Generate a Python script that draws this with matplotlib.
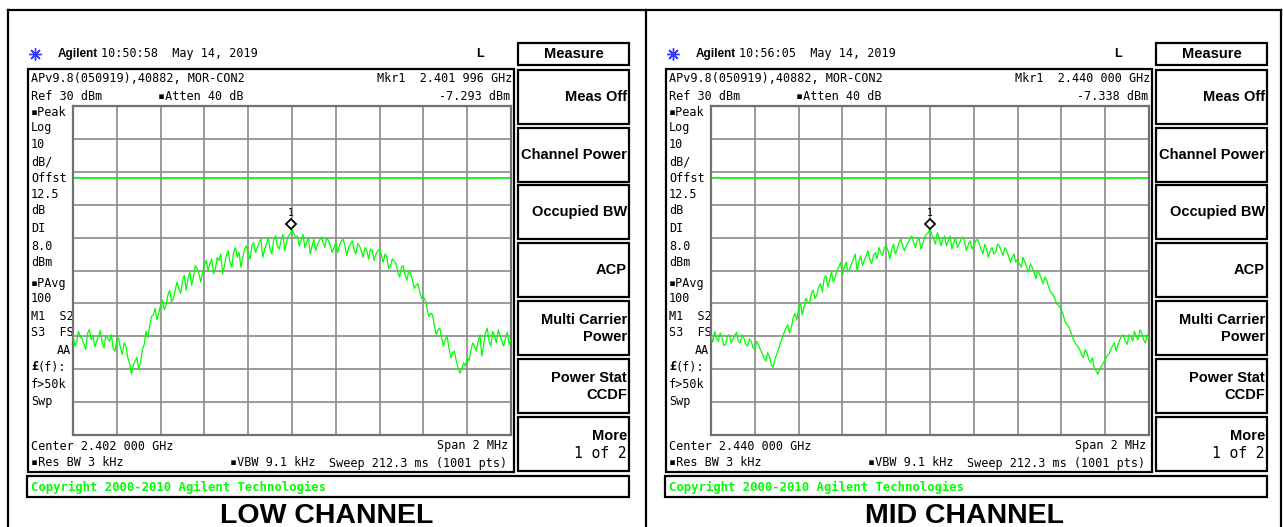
import numpy as np
import matplotlib
matplotlib.use('Agg')
import matplotlib.pyplot as plt
from matplotlib.patches import Rectangle
from matplotlib.transforms import offset_copy

# ---------------- data ----------------
SPAN_GHZ = 0.002
REF_DBM = 30.0
DB_PER_DIV = 10.0
DISPLAY_LINE_DBM = 8.0

low_center = 2.402
mid_center = 2.440
low_marker_freq, low_marker_level = 2.401996, -7.293
mid_marker_freq, mid_marker_level = 2.440000, -7.338

low_trace = [
    -39.5, -43.0, -41.8, -38.5, -40.2, -40.8, -42.5, -44.0, -39.0, -38.0,
    -41.0, -40.0, -43.2, -41.5, -40.0, -38.2, -42.0, -43.5, -39.8, -40.5,
    -41.5, -39.5, -43.8, -44.5, -41.0, -40.5, -43.5, -45.5, -42.0, -43.0,
    -46.5, -48.0, -51.5, -49.0, -47.5, -46.5, -50.0, -48.0, -44.0, -42.5,
    -38.5, -40.5, -37.0, -34.0, -33.5, -31.5, -35.0, -33.0, -30.5, -29.0,
    -32.0, -30.5, -27.5, -26.0, -29.5, -28.5, -26.0, -23.5, -25.5, -27.0,
    -23.0, -21.5, -26.0, -22.5, -20.5, -24.5, -22.0, -18.5, -19.5, -21.0,
    -23.5, -20.5, -18.5, -17.0, -20.0, -18.0, -16.5, -21.0, -19.5, -16.0,
    -17.0, -15.0, -21.0, -18.5, -15.5, -14.0, -17.5, -19.0, -14.5, -13.0,
    -16.0, -14.5, -19.0, -16.0, -13.5, -12.5, -15.0, -16.5, -12.5, -11.5,
    -14.5, -13.0, -11.5, -10.5, -16.0, -13.5, -12.0, -10.0, -13.5, -15.0,
    -10.5, -9.5, -12.5, -13.5, -11.0, -9.0, -14.0, -11.5, -9.5, -9.0,
    -7.3, -8.8, -10.0, -9.5, -12.5, -11.0, -9.0, -13.0, -11.5, -10.0,
    -15.0, -12.5, -10.5, -14.0, -12.0, -11.0, -9.8, -11.5, -13.0, -10.0,
    -11.0, -12.5, -14.5, -13.0, -11.5, -14.5, -12.5, -11.0, -10.5, -12.5,
    -15.5, -13.0, -12.0, -11.0, -13.5, -15.0, -11.8, -12.5, -14.0, -16.0,
    -13.0, -14.0, -16.5, -13.5, -14.0, -17.0, -15.0, -14.0, -13.5, -15.5,
    -17.5, -15.0, -16.0, -19.5, -18.5, -16.5, -17.0, -18.0, -20.5, -22.0,
    -19.0, -18.5, -21.5, -23.0, -20.0, -21.0, -23.0, -25.5, -24.5, -24.0,
    -26.5, -28.5, -28.0, -29.0, -31.5, -34.0, -33.0, -33.5, -36.5, -39.5,
    -38.0, -37.5, -40.5, -43.0, -41.0, -40.0, -43.5, -46.5, -45.0, -44.5,
    -47.5, -49.5, -51.2, -50.0, -48.0, -49.0, -46.5, -47.5, -44.5, -42.0,
    -43.0, -44.5, -41.5, -39.5, -46.0, -42.5, -39.0, -37.5, -41.5, -43.0,
    -38.5, -40.0, -42.0, -38.0, -40.0, -41.5, -43.0, -40.5, -38.8, -42.5,
    -41.0,
]

mid_trace = [
    -40.0, -41.8, -38.5, -40.5, -41.5, -39.0, -40.5, -42.8, -42.5, -40.0,
    -39.5, -42.0, -41.0, -39.8, -38.8, -41.5, -42.0, -39.5, -40.5, -42.5,
    -43.0, -40.8, -41.5, -43.5, -44.0, -41.5, -42.5, -44.0, -45.0, -46.5,
    -47.5, -45.0, -46.0, -48.5, -49.5, -47.0, -45.5, -44.0, -42.0, -40.5,
    -39.0, -37.5, -36.5, -39.0, -37.5, -34.5, -33.0, -35.0, -31.5, -30.0,
    -33.5, -31.0, -28.5, -29.5, -30.0, -27.0, -26.0, -28.5, -27.5, -25.0,
    -24.0, -26.5, -22.5, -21.5, -25.0, -23.0, -20.5, -23.5, -22.0, -20.0,
    -19.0, -17.5, -21.5, -19.0, -17.5, -20.5, -19.5, -18.0, -16.5, -15.0,
    -20.0, -17.5, -15.5, -18.5, -17.0, -15.5, -14.0, -16.5, -18.0, -15.5,
    -14.5, -16.5, -13.0, -14.5, -15.5, -13.0, -12.5, -14.0, -16.5, -13.5,
    -12.0, -15.0, -13.5, -11.5, -10.5, -12.5, -14.0, -12.5, -11.5, -10.5,
    -9.5, -11.5, -13.0, -11.0, -10.0, -13.5, -12.0, -10.0, -9.0, -8.5,
    -7.3, -9.0, -10.5, -12.0, -8.5, -10.0, -12.5, -10.5, -9.5, -12.5,
    -11.0, -9.5, -13.5, -11.5, -10.0, -13.0, -12.0, -10.5, -9.8, -11.5,
    -14.0, -12.0, -11.0, -13.5, -12.5, -11.0, -10.5, -12.0, -13.5, -15.0,
    -12.0, -13.5, -16.0, -14.0, -13.0, -15.0, -14.5, -12.0, -12.5, -14.0,
    -15.5, -13.0, -14.0, -15.5, -17.5, -16.0, -15.0, -17.5, -16.5, -18.0,
    -19.0, -16.0, -17.5, -19.0, -20.5, -18.0, -19.0, -20.5, -22.5, -20.0,
    -21.0, -22.5, -24.0, -22.0, -23.0, -25.0, -26.5, -27.0, -28.0, -29.5,
    -30.5, -31.0, -32.0, -33.5, -35.5, -36.5, -37.0, -38.5, -40.0, -41.5,
    -42.5, -43.0, -44.0, -45.5, -46.5, -44.0, -45.0, -47.0, -48.0, -46.5,
    -49.5, -50.5, -51.5, -50.0, -49.0, -48.0, -47.0, -46.0, -45.5, -44.0,
    -43.0, -42.0, -44.5, -42.5, -41.0, -40.0, -39.5, -41.5, -42.5, -39.5,
    -40.0, -41.5, -38.5, -40.0, -41.0, -38.0, -39.0, -41.0, -42.0, -39.5,
    -40.5,
]

low_time = "10:50:58  May 14, 2019"
mid_time = "10:56:05  May 14, 2019"
low_title = "LOW CHANNEL"
mid_title = "MID CHANNEL"

left_labels = ["\u25aaPeak", "Log", "10", "dB/", "Offst", "12.5", "dB", "DI",
               "8.0", "dBm", "\u25aaPAvg", "100", "M1  S2", "S3  FS"]
left_label_y = [112, 128, 145, 162, 179, 194, 210, 229, 247, 262, 283, 298, 317, 333]
lower_labels = ["f>50k", "Swp"]
lower_label_y = [385, 402]

softkeys = [["Meas Off"], ["Channel Power"], ["Occupied BW"], ["ACP"],
            ["Multi Carrier", "Power"], ["Power Stat", "CCDF"], ["More", "1 of 2"]]

# ---------------- figure ----------------
W, H = 1283, 527
fig = plt.figure(figsize=(W / 100, H / 100), dpi=100)
bg = fig.add_axes([0, 0, 1, 1])
bg.set_xlim(0, W)
bg.set_ylim(H, 0)
bg.axis('off')

MONO = ['DejaVu Sans Mono', 'DejaVu Sans']
SANS = ['Liberation Sans', 'DejaVu Sans']


def txt(x, y, s, ha='left', size=8.5, weight='normal', color='black', family=MONO, va='center'):
    bg.text(x, y, s, ha=ha, va=va, fontsize=size, fontweight=weight,
            color=color, family=family)


def rect(x0, y0, x1, y1, lw=1.5, ec='black'):
    bg.add_patch(Rectangle((x0, y0), x1 - x0, y1 - y0, fill=False, ec=ec, lw=lw))


# outer frame
bg.plot([8, 1281], [10, 10], color='black', lw=1.6)
bg.plot([8, 8], [10, H], color='black', lw=1.6)
bg.plot([646, 646], [10, H], color='black', lw=1.6)
bg.plot([1281, 1281], [10, H], color='black', lw=1.6)


def draw_panel(ox, time_s, center, mfreq, mlevel, trace, title):
    # header
    bg.plot([ox + 35], [54], marker=(8, 2, 0), ms=9, color='#3a3aff', mew=1.0)
    bg.plot([ox + 35], [54], marker='o', ms=2.5, color='#3a3aff', mew=0)
    txt(ox + 58, 54, "Agilent", size=8.5, weight='bold', family=SANS)
    txt(ox + 101, 54, time_s)
    txt(ox + 480, 54, "L", size=9, weight='bold', family=SANS, ha='center')

    # screen box
    rect(ox + 28, 69, ox + 514, 472, lw=1.6)
    txt(ox + 31, 78, "APv9.8(050919),40882, MOR-CON2")
    txt(ox + 31, 96, "Ref 30 dBm")
    txt(ox + 158, 96, "\u25aaAtten 40 dB")
    txt(ox + 512, 78, "Mkr1  %.3f %03d GHz" % (int(mfreq * 1000) / 1000.0,
                                               round(mfreq * 1e6) % 1000), ha='right')
    txt(ox + 510, 96, "%.3f dBm" % mlevel, ha='right')
    for s, y in zip(left_labels, left_label_y):
        txt(ox + 31, y, s)
    txt(ox + 71, 351, "AA", ha='right')
    txt(ox + 31, 367, "\u00a3", weight='bold')
    txt(ox + 38, 367, "(f):")
    for s, y in zip(lower_labels, lower_label_y):
        txt(ox + 31, y, s)
    txt(ox + 31, 446, "Center %.3f %03d GHz" % (center, round(center * 1e6) % 1000))
    txt(ox + 31, 463, "\u25aaRes BW 3 kHz")
    txt(ox + 230, 463, "\u25aaVBW 9.1 kHz")
    txt(ox + 508, 446, "Span 2 MHz", ha='right')
    txt(ox + 507, 463, "Sweep 212.3 ms (1001 pts)", ha='right')

    # copyright bar
    rect(ox + 27, 476, ox + 629, 497, lw=1.6)
    txt(ox + 31, 487, "Copyright 2000-2010 Agilent Technologies", size=8.8,
        weight='bold', color='#00ff00')

    # softkeys
    rect(ox + 518, 43, ox + 629, 65, lw=1.6)
    txt(ox + 573.5, 54, "Measure", ha='center', size=10.5, weight='bold', family=SANS)
    tops = [70, 128, 185, 243, 301, 359, 417]
    for lines, top in zip(softkeys, tops):
        rect(ox + 518, top, ox + 629, top + 54, lw=1.6)
        if len(lines) == 1:
            txt(ox + 627, top + 27, lines[0], ha='right', size=10.5, weight='bold', family=SANS)
        else:
            w2 = 'normal' if lines[0] == 'More' else 'bold'
            txt(ox + 627, top + 19, lines[0], ha='right', size=10.5, weight='bold', family=SANS)
            txt(ox + 627, top + 36, lines[1], ha='right', size=10.5,
                weight=w2, family=SANS if w2 == 'bold' else MONO)

    # title
    txt(ox + 326.5, 523, title, ha='center', va='baseline', size=20.5,
        weight='bold', family=SANS)

    # trace axes (grid)
    gx0, gx1, gy0, gy1 = ox + 73, ox + 511, 106, 435
    ax = fig.add_axes([gx0 / W, (H - gy1) / H, (gx1 - gx0) / W, (gy1 - gy0) / H])
    fmin, fmax = center - SPAN_GHZ / 2, center + SPAN_GHZ / 2
    ylo = REF_DBM - 10 * DB_PER_DIV
    ax.set_xlim(fmin, fmax)
    ax.set_ylim(ylo, REF_DBM)
    ax.set_xticks(np.linspace(fmin, fmax, 11))
    ax.set_yticks(np.linspace(ylo, REF_DBM, 11))
    ax.tick_params(length=0, labelbottom=False, labelleft=False)
    ax.grid(True, color='#8a8a8a', lw=1.2)
    ax.set_axisbelow(True)
    for sp in ax.spines.values():
        sp.set_color('#707070')
        sp.set_linewidth(1.6)
    ax.axhline(DISPLAY_LINE_DBM, color='#00ee00', lw=1.2, zorder=2)
    freqs = center + np.linspace(-SPAN_GHZ / 2, SPAN_GHZ / 2, len(trace))
    ax.plot(freqs, trace, color='#00ff00', lw=0.9, zorder=3)
    tr = offset_copy(ax.transData, fig=fig, x=0, y=5, units='dots')
    ax.plot([mfreq], [mlevel], marker='D', ms=5.5, mfc='white', mec='black',
            mew=1.3, transform=tr, zorder=4)
    tr2 = offset_copy(ax.transData, fig=fig, x=0, y=16, units='dots')
    ax.text(mfreq, mlevel, "1", transform=tr2, ha='center', va='center',
            fontsize=7, family=MONO, zorder=4)


draw_panel(0, low_time, low_center, low_marker_freq, low_marker_level, low_trace, low_title)
draw_panel(638, mid_time, mid_center, mid_marker_freq, mid_marker_level, mid_trace, mid_title)

fig.savefig('out.png', dpi=100)
